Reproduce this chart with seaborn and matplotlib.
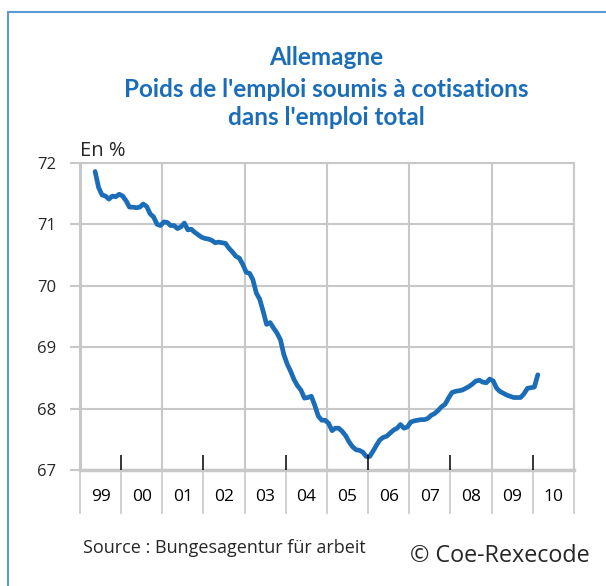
import pandas as pd
import numpy as np
import matplotlib.pyplot as plt
import matplotlib.dates as mdates
from matplotlib.lines import Line2D
import seaborn as sns

# Poids de l'emploi soumis à cotisations, mensuel, mai 1999 - fév. 2010
start_month = "1999-05"
values = [
    71.86, 71.60, 71.48, 71.46, 71.41, 71.46, 71.45, 71.49,                      # 1999
    71.46, 71.38, 71.28, 71.28, 71.27, 71.28, 71.33, 71.29, 71.17, 71.12, 71.00, 70.98,  # 2000
    71.04, 71.03, 70.98, 70.98, 70.93, 70.96, 71.02, 70.91, 70.92, 70.87, 70.83, 70.79,  # 2001
    70.77, 70.76, 70.74, 70.70, 70.71, 70.70, 70.69, 70.61, 70.55, 70.48, 70.45, 70.35,  # 2002
    70.22, 70.20, 70.10, 69.88, 69.78, 69.58, 69.37, 69.40, 69.31, 69.23, 69.12, 68.88,  # 2003
    68.72, 68.60, 68.47, 68.37, 68.30, 68.17, 68.18, 68.20, 68.05, 67.88, 67.81, 67.81,  # 2004
    67.76, 67.64, 67.68, 67.68, 67.63, 67.56, 67.46, 67.38, 67.33, 67.32, 67.29, 67.22,  # 2005
    67.22, 67.31, 67.40, 67.49, 67.53, 67.55, 67.60, 67.65, 67.68, 67.74, 67.68, 67.70,  # 2006
    67.78, 67.80, 67.81, 67.82, 67.82, 67.84, 67.89, 67.92, 67.97, 68.03, 68.07, 68.17,  # 2007
    68.26, 68.28, 68.29, 68.30, 68.33, 68.36, 68.40, 68.45, 68.46, 68.43, 68.42, 68.48,  # 2008
    68.45, 68.33, 68.28, 68.25, 68.22, 68.20, 68.18, 68.18, 68.18, 68.24, 68.33, 68.34,  # 2009
    68.35, 68.55,                                                                  # 2010
]
years = list(range(1999, 2011))
year_labels = ["99", "00", "01", "02", "03", "04", "05", "06", "07", "08", "09", "10"]
y_ticks = [67, 68, 69, 70, 71, 72]

dates = pd.date_range(start_month, periods=len(values), freq="MS") + pd.Timedelta(days=14)
df = pd.DataFrame({"date": dates, "poids": values})

blue = "#1b6db7"
grey = "#c8c8c8"

sns.set_theme(style="white")
plt.rcParams["font.family"] = ["Open Sans", "DejaVu Sans"]

fig = plt.figure(figsize=(6.06, 5.86), dpi=100)
ax = fig.add_axes([0.132, 0.198, 0.815, 0.524])

sns.lineplot(df, x="date", y="poids", color=blue, linewidth=3.4, ax=ax,
             solid_capstyle="round")

bounds = [pd.Timestamp(f"{y}-01-01") for y in years + [2011]]
mids = [pd.Timestamp(f"{y}-07-02") for y in years]

ax.set_xlim(bounds[0], bounds[-1])
ax.set_ylim(67, 72)

# grille verticale tous les deux ans
for b in bounds[::2]:
    ax.axvline(b, color=grey, lw=1.5, zorder=0)
for v in y_ticks:
    ax.axhline(v, color=grey, lw=1.5, zorder=0)

# petites marques noires internes
ax.vlines(bounds[1::2], 67, 67 + 15 / 61.4, color="black", lw=1.1, zorder=3)

ax.set_xticks(mids)
ax.set_xticklabels(year_labels, fontsize=12.5)
ax.set_xticks(bounds, minor=True)
ax.xaxis.remove_overlapping_locs = False
ax.tick_params(axis="x", which="major", bottom=True, length=0, pad=14, colors="black")
ax.tick_params(axis="x", which="minor", bottom=True, direction="out", length=32,
               width=1.2, color=grey)
ax.set_yticks(y_ticks)
ax.set_yticklabels([str(v) for v in y_ticks], fontsize=12)
ax.tick_params(axis="y", left=True, direction="out", length=7, width=1.5, color=grey, pad=10)
ax.set_xlabel("")
ax.set_ylabel("")

for s in ax.spines.values():
    s.set_color(grey)
    s.set_linewidth(1.5)
ax.spines["left"].set_linewidth(2.2)
ax.spines["bottom"].set_linewidth(2.5)

ax.text(0.0, 1.005, "En %", transform=ax.transAxes, fontsize=14.5, ha="left", va="bottom")

# titre
title_font = dict(color=blue, fontsize=17.5, fontweight="bold",
                  family=["Lato", "DejaVu Sans"], ha="center", va="baseline")
fig.text(0.539, 1 - 65 / 586, "Allemagne", **title_font)
fig.text(0.539, 1 - 97 / 586, "Poids de l'emploi soumis à cotisations", **title_font)
fig.text(0.539, 1 - 125 / 586, "dans l'emploi total", **title_font)

fig.text(83 / 606, 1 - 548 / 586, "Source : Bungesagentur für arbeit", fontsize=13,
         ha="left", va="center")
fig.text(590 / 606, 1 - 556 / 586, "© Coe-Rexecode", fontsize=16.8, ha="right", va="center")

# cadre bleu
fig.add_artist(Line2D([8 / 606, 8 / 606], [0, 1 - 12 / 586], color="#5a9bd4", lw=1.5))
fig.add_artist(Line2D([8 / 606, 1], [1 - 12 / 586, 1 - 12 / 586], color="#5a9bd4", lw=1.5))

fig.savefig("out.png", dpi=100)
